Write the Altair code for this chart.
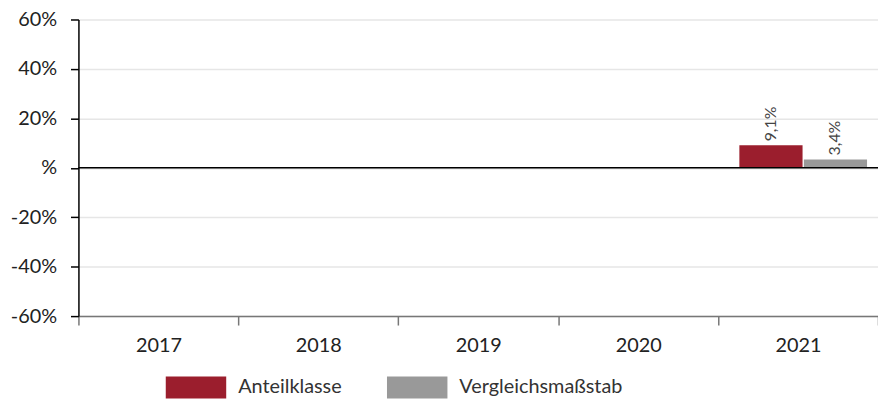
import altair as alt
import pandas as pd

years = ["2017", "2018", "2019", "2020", "2021"]
series = ["Anteilklasse", "Vergleichsmaßstab"]
anteil = [None, None, None, None, 9.1]
vergleich = [None, None, None, None, 3.4]
colors = ["#9B1E2D", "#999999"]

rows = []
for i, y in enumerate(years):
    for s, vals in zip(series, [anteil, vergleich]):
        if vals[i] is not None:
            rows.append({"year": y, "series": s, "value": vals[i]})
df = pd.DataFrame(rows)

FONT = "Lato"

x = alt.X("year:N", scale=alt.Scale(domain=years, paddingInner=0, paddingOuter=0),
          axis=alt.Axis(title=None, labelAngle=0, tickBand="extent", domainColor="#777777",
                        tickColor="#777777", tickSize=9, labelPadding=11, labelFontSize=20,
                        labelColor="#222222", labelFont=FONT, grid=False, domainWidth=1.5, tickWidth=1.5))
y = alt.Y("value:Q", scale=alt.Scale(domain=[-60, 60], nice=False),
          axis=alt.Axis(title=None, values=[-60, -40, -20, 0, 20, 40, 60],
                        labelExpr="datum.value == 0 ? '%' : datum.value + '%'",
                        domainColor="#000000", tickColor="#000000", tickSize=8, domainWidth=1.5, tickWidth=1.5,
                        labelPadding=14, labelFontSize=20, labelColor="#222222", labelFont=FONT,
                        gridColor="#e6e6e6", gridWidth=1.5))
xo = alt.XOffset("series:N", scale=alt.Scale(domain=series, paddingOuter=0.25,
                                             paddingInner=0.02, align=0.66))
color = alt.Color("series:N", scale=alt.Scale(domain=series, range=colors),
                  legend=alt.Legend(title=None, orient="none", direction="horizontal",
                                    legendX=107.5, legendY=360,
                                    symbolType="M-2.77,-1H2.77V1H-2.77Z", symbolSize=484,
                                    symbolStrokeWidth=0, symbolOpacity=1,
                                    labelFontSize=20, labelFont=FONT, labelColor="#333333",
                                    labelOffset=31.5, columnPadding=45, labelLimit=300))

base = alt.Chart(df)
bars = base.mark_bar().encode(x=x, xOffset=xo, y=y, color=color)
labels = base.mark_text(angle=270, align="left", baseline="middle", dx=4, fontSize=16,
                        font=FONT, color="#444444").transform_calculate(
    lab="replace(format(datum.value, '.1f'), '.', ',') + '%'"
).encode(x=x, xOffset=xo, y=y, text="lab:N")
zero = alt.Chart(pd.DataFrame({"z": [0]})).mark_rule(color="#000000", strokeWidth=1.5).encode(y="z:Q")

chart = alt.layer(bars, labels, zero).properties(
    width=806, height=299,
    autosize=alt.AutoSizeParams(type="none"),
    padding={"left": 71, "top": 10, "right": 0, "bottom": 84}
).configure_view(stroke=None)

chart.save("out.html", embed_options={"renderer": "svg", "actions": False})
